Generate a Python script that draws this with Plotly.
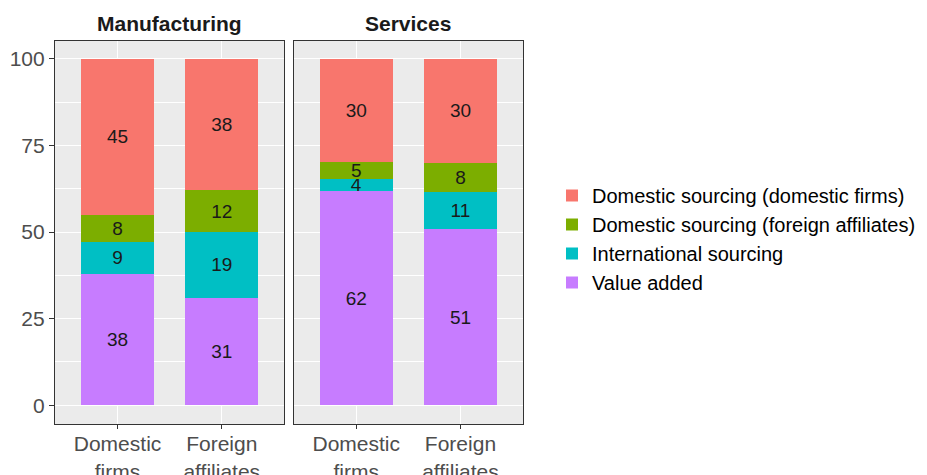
import plotly.graph_objects as go

# ---- data ----
categories = ["Domestic firms", "Foreign affiliates"]
tick_labels = ["Domestic<br>firms", "Foreign<br>affiliates"]
sectors = ["Manufacturing", "Services"]
series_names = [
    "Value added",
    "International sourcing",
    "Domestic sourcing (foreign affiliates)",
    "Domestic sourcing (domestic firms)",
]
value_added = {"Manufacturing": [38, 31], "Services": [61.8, 50.9]}
international_sourcing = {"Manufacturing": [9, 19], "Services": [3.6, 10.7]}
dom_sourcing_foreign = {"Manufacturing": [8, 12], "Services": [4.9, 8.4]}
dom_sourcing_domestic = {"Manufacturing": [45, 38], "Services": [29.7, 30.0]}
y_ticks = [0, 25, 50, 75, 100]

colors = {
    "Value added": "#C77CFF",
    "International sourcing": "#00BFC4",
    "Domestic sourcing (foreign affiliates)": "#7CAE00",
    "Domestic sourcing (domestic firms)": "#F8766D",
}
series_data = {
    "Value added": value_added,
    "International sourcing": international_sourcing,
    "Domestic sourcing (foreign affiliates)": dom_sourcing_foreign,
    "Domestic sourcing (domestic firms)": dom_sourcing_domestic,
}

FONT = "Liberation Sans, Arial, sans-serif"
FS = 21
FS_LEGEND = 20
FS_LABEL = 19

fig = go.Figure()
for i, sector in enumerate(sectors):
    xa = "x" if i == 0 else "x2"
    ya = "y" if i == 0 else "y2"
    for name in series_names:
        vals = series_data[name][sector]
        fig.add_trace(go.Bar(
            x=categories, y=vals, name=name,
            marker=dict(color=colors[name], line=dict(width=0)),
            width=0.7,
            text=[str(round(v)) for v in vals],
            textposition="inside", insidetextanchor="middle", textangle=0,
            textfont=dict(family=FONT, size=FS_LABEL, color="#1a1a1a"),
            cliponaxis=False,
            xaxis=xa, yaxis=ya,
            legendgroup=name, showlegend=(i == 0),
        ))

W, H = 927, 475
panel_x = [(55, 284.3), (293.7, 523)]
y_dom = [(H - 424) / H, (H - 40.7) / H]

layout = dict(
    width=W, height=H,
    margin=dict(l=0, r=0, t=0, b=0, autoexpand=False),
    paper_bgcolor="white", plot_bgcolor="#EBEBEB",
    barmode="stack", bargap=0.3,
    font=dict(family=FONT, size=FS, color="#4D4D4D"),
    uniformtext=dict(minsize=FS_LABEL, mode="show"),
    showlegend=True,
    legend=dict(
        traceorder="reversed",
        x=552 / W, xanchor="left", y=(H - 239) / H, yanchor="middle",
        font=dict(family=FONT, size=FS_LEGEND, color="#000000"),
        bgcolor="rgba(0,0,0,0)", tracegroupgap=2,
    ),
)
for i in range(2):
    sx = "" if i == 0 else "2"
    layout["xaxis" + sx] = dict(
        domain=[panel_x[i][0] / W, panel_x[i][1] / W],
        anchor="y" + sx, type="category",
        range=[-0.6, 1.6], automargin=False,
        tickmode="array", tickvals=categories, ticktext=tick_labels,
        showgrid=True, gridcolor="white", gridwidth=1.1,
        ticks="outside", ticklen=4, tickcolor="#333333", tickwidth=1,
        ticklabelstandoff=-3,
        tickfont=dict(family=FONT, size=FS, color="#4D4D4D"),
        showline=True, mirror=True, linecolor="#333333", linewidth=1.2,
        zeroline=False, fixedrange=True,
    )
    layout["yaxis" + sx] = dict(
        domain=list(y_dom), anchor="x" + sx,
        range=[-5.4, 105.2], automargin=False,
        tickmode="array", tickvals=y_ticks,
        showticklabels=(i == 0),
        showgrid=True, gridcolor="white", gridwidth=1.1,
        minor=dict(tick0=12.5, dtick=25, showgrid=True, gridcolor="white", gridwidth=0.5),
        ticks="outside" if i == 0 else "", ticklen=5, tickcolor="#333333", tickwidth=1,
        tickfont=dict(family=FONT, size=FS, color="#4D4D4D"),
        showline=True, mirror=True, linecolor="#333333", linewidth=1.2,
        zeroline=False, fixedrange=True,
    )
    if i == 1:
        layout["yaxis2"]["matches"] = "y"

fig.update_layout(**layout)

for i, sector in enumerate(sectors):
    sx = "" if i == 0 else "2"
    fig.add_annotation(
        text=f"<b>{sector}</b>", showarrow=False,
        xref=f"x{sx} domain", x=0.5, yref=f"y{sx} domain", y=1,
        xanchor="center", yanchor="bottom", yshift=4,
        font=dict(family=FONT, size=FS, color="#1A1A1A"),
    )

fig.write_html(
    "out.html",
    config={"displayModeBar": False},
    post_script="document.body.style.margin='0';document.body.style.overflow='hidden';",
)
